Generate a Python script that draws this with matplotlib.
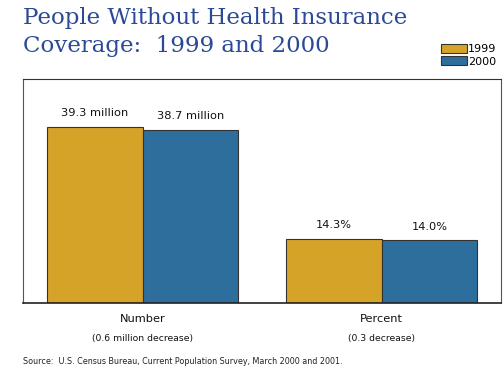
import numpy as np
import matplotlib.pyplot as plt

categories = ['Number', 'Percent']
sublabels = ['(0.6 million decrease)', '(0.3 decrease)']
years = ['1999', '2000']
vals_1999 = [39.3, 14.3]
vals_2000 = [38.7, 14.0]
labels_1999 = ['39.3 million', '14.3%']
labels_2000 = ['38.7 million', '14.0%']

gold = '#D6A329'
blue = '#2D6E9D'
title_blue = '#2B4A96'

fig = plt.figure(figsize=(5.03, 3.67), dpi=100)
ax = fig.add_axes([23/503, 1 - 303/367, 478/503, 224/367])

x = np.arange(len(categories))
w = 0.4
b1 = ax.bar(x - w/2, vals_1999, w, color=gold, edgecolor='#333333', linewidth=0.8, label=years[0])
b2 = ax.bar(x + w/2, vals_2000, w, color=blue, edgecolor='#333333', linewidth=0.8, label=years[1])

for rect, lab in zip(b1, labels_1999):
    ax.text(rect.get_x() + rect.get_width()/2, rect.get_height() + 1.9, lab,
            ha='center', va='bottom', fontsize=8.2, color='#111111')
for rect, lab in zip(b2, labels_2000):
    ax.text(rect.get_x() + rect.get_width()/2, rect.get_height() + 1.9, lab,
            ha='center', va='bottom', fontsize=8.2, color='#111111')

ax.set_xlim(-0.5, 1.5)
ax.set_ylim(0, 50)
ax.set_xticks([])
ax.set_yticks([])
for s in ax.spines.values():
    s.set_color('#555555')
    s.set_linewidth(0.8)
ax.spines['bottom'].set_color('#222222')
ax.spines['bottom'].set_linewidth(1.2)
ax.spines['top'].set_color('#333333')

for xi, cat, sub in zip(x, categories, sublabels):
    ax.text(xi, -2.4, cat, ha='center', va='top', fontsize=8.2, color='#111111')
    ax.text(xi, -7.0, sub, ha='center', va='top', fontsize=6.7, color='#111111')

fig.text(23/503, 1 - 18/367, 'People Without Health Insurance', fontsize=16.5,
         family='DejaVu Serif', color=title_blue, va='center', ha='left')
fig.text(23/503, 1 - 46/367, 'Coverage:  1999 and 2000', fontsize=16.5,
         family='DejaVu Serif', color=title_blue, va='center', ha='left')

fig.legend(handles=[b1, b2], labels=years, loc='upper left',
           bbox_to_anchor=(441/503, 1 - 44/367), frameon=False, fontsize=8,
           handlelength=2.3, handleheight=0.85, handletextpad=0.15,
           labelspacing=0.2, borderpad=0, borderaxespad=0)

fig.text(23/503, 1 - 362/367, 'Source:  U.S. Census Bureau, Current Population Survey, March 2000 and 2001.',
         fontsize=5.8, color='#222222', va='center', ha='left')

fig.savefig('out.png', dpi=100)
